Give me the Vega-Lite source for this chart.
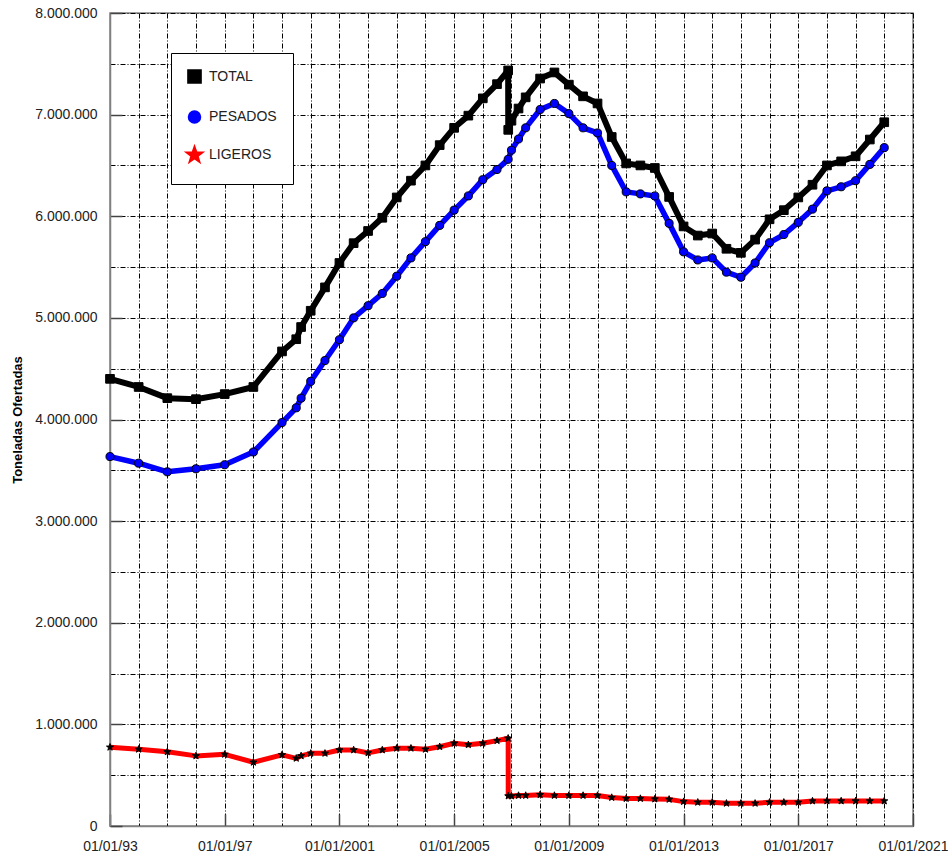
{
  "$schema": "https://vega.github.io/schema/vega-lite/v6.json",
  "width": 803,
  "height": 813,
  "autosize": {"type": "none"},
  "padding": {"left": 110, "top": 13, "right": 35, "bottom": 30},
  "background": "white",
  "config": {
    "font": "Liberation Sans",
    "view": {"stroke": "#808080", "strokeWidth": 1.5}
  },
  "data": {
    "values": [
      {"d": "1993-01-01", "TOTAL": 4400000, "PESADOS": 3635000, "LIGEROS": 775000},
      {"d": "1994-01-01", "TOTAL": 4320000, "PESADOS": 3570000, "LIGEROS": 755000},
      {"d": "1995-01-01", "TOTAL": 4210000, "PESADOS": 3485000, "LIGEROS": 730000},
      {"d": "1996-01-01", "TOTAL": 4200000, "PESADOS": 3515000, "LIGEROS": 690000},
      {"d": "1997-01-01", "TOTAL": 4250000, "PESADOS": 3555000, "LIGEROS": 705000},
      {"d": "1998-01-01", "TOTAL": 4320000, "PESADOS": 3680000, "LIGEROS": 627000},
      {"d": "1999-01-01", "TOTAL": 4670000, "PESADOS": 3970000, "LIGEROS": 700000},
      {"d": "1999-07-01", "TOTAL": 4790000, "PESADOS": 4115000, "LIGEROS": 666000},
      {"d": "1999-09-01", "TOTAL": 4910000, "PESADOS": 4210000, "LIGEROS": 690000},
      {"d": "2000-01-01", "TOTAL": 5070000, "PESADOS": 4375000, "LIGEROS": 715000},
      {"d": "2000-07-01", "TOTAL": 5300000, "PESADOS": 4580000, "LIGEROS": 715000},
      {"d": "2001-01-01", "TOTAL": 5540000, "PESADOS": 4785000, "LIGEROS": 748000},
      {"d": "2001-07-01", "TOTAL": 5735000, "PESADOS": 5000000, "LIGEROS": 748000},
      {"d": "2002-01-01", "TOTAL": 5855000, "PESADOS": 5120000, "LIGEROS": 720000},
      {"d": "2002-07-01", "TOTAL": 5985000, "PESADOS": 5240000, "LIGEROS": 748000},
      {"d": "2003-01-01", "TOTAL": 6185000, "PESADOS": 5410000, "LIGEROS": 765000},
      {"d": "2003-07-01", "TOTAL": 6350000, "PESADOS": 5590000, "LIGEROS": 765000},
      {"d": "2004-01-01", "TOTAL": 6500000, "PESADOS": 5750000, "LIGEROS": 755000},
      {"d": "2004-07-01", "TOTAL": 6700000, "PESADOS": 5910000, "LIGEROS": 780000},
      {"d": "2005-01-01", "TOTAL": 6870000, "PESADOS": 6060000, "LIGEROS": 814000},
      {"d": "2005-07-01", "TOTAL": 6990000, "PESADOS": 6200000, "LIGEROS": 800000},
      {"d": "2006-01-01", "TOTAL": 7160000, "PESADOS": 6360000, "LIGEROS": 814000},
      {"d": "2006-07-01", "TOTAL": 7300000, "PESADOS": 6460000, "LIGEROS": 840000},
      {"d": "2006-11-20", "TOTAL": 7435000, "PESADOS": 6560000, "LIGEROS": 863000},
      {"d": "2006-11-21", "TOTAL": 6850000, "PESADOS": null, "LIGEROS": 295000},
      {"d": "2007-01-01", "TOTAL": 6940000, "PESADOS": 6650000, "LIGEROS": 295000},
      {"d": "2007-04-01", "TOTAL": 7060000, "PESADOS": 6760000, "LIGEROS": 300000},
      {"d": "2007-07-01", "TOTAL": 7170000, "PESADOS": 6870000, "LIGEROS": 300000},
      {"d": "2008-01-01", "TOTAL": 7355000, "PESADOS": 7050000, "LIGEROS": 308000},
      {"d": "2008-07-01", "TOTAL": 7415000, "PESADOS": 7110000, "LIGEROS": 300000},
      {"d": "2009-01-01", "TOTAL": 7295000, "PESADOS": 7010000, "LIGEROS": 300000},
      {"d": "2009-07-01", "TOTAL": 7180000, "PESADOS": 6870000, "LIGEROS": 300000},
      {"d": "2010-01-01", "TOTAL": 7110000, "PESADOS": 6820000, "LIGEROS": 300000},
      {"d": "2010-07-01", "TOTAL": 6780000, "PESADOS": 6500000, "LIGEROS": 280000},
      {"d": "2011-01-01", "TOTAL": 6520000, "PESADOS": 6240000, "LIGEROS": 270000},
      {"d": "2011-07-01", "TOTAL": 6500000, "PESADOS": 6220000, "LIGEROS": 270000},
      {"d": "2012-01-01", "TOTAL": 6475000, "PESADOS": 6200000, "LIGEROS": 265000},
      {"d": "2012-07-01", "TOTAL": 6190000, "PESADOS": 5930000, "LIGEROS": 262000},
      {"d": "2013-01-01", "TOTAL": 5900000, "PESADOS": 5650000, "LIGEROS": 240000},
      {"d": "2013-07-01", "TOTAL": 5810000, "PESADOS": 5570000, "LIGEROS": 233000},
      {"d": "2014-01-01", "TOTAL": 5830000, "PESADOS": 5590000, "LIGEROS": 233000},
      {"d": "2014-07-01", "TOTAL": 5680000, "PESADOS": 5450000, "LIGEROS": 223000},
      {"d": "2015-01-01", "TOTAL": 5640000, "PESADOS": 5400000, "LIGEROS": 223000},
      {"d": "2015-07-01", "TOTAL": 5770000, "PESADOS": 5540000, "LIGEROS": 223000},
      {"d": "2016-01-01", "TOTAL": 5970000, "PESADOS": 5740000, "LIGEROS": 233000},
      {"d": "2016-07-01", "TOTAL": 6060000, "PESADOS": 5820000, "LIGEROS": 233000},
      {"d": "2017-01-01", "TOTAL": 6185000, "PESADOS": 5940000, "LIGEROS": 233000},
      {"d": "2017-07-01", "TOTAL": 6310000, "PESADOS": 6070000, "LIGEROS": 246000},
      {"d": "2018-01-01", "TOTAL": 6500000, "PESADOS": 6250000, "LIGEROS": 246000},
      {"d": "2018-07-01", "TOTAL": 6540000, "PESADOS": 6290000, "LIGEROS": 246000},
      {"d": "2019-01-01", "TOTAL": 6590000, "PESADOS": 6350000, "LIGEROS": 246000},
      {"d": "2019-07-01", "TOTAL": 6755000, "PESADOS": 6510000, "LIGEROS": 246000},
      {"d": "2020-01-01", "TOTAL": 6925000, "PESADOS": 6675000, "LIGEROS": 246000}
    ]
  },
  "transform": [
    {"fold": ["TOTAL", "PESADOS", "LIGEROS"], "as": ["s", "v"]},
    {"filter": "isValid(datum.v)"}
  ],
  "encoding": {
    "x": {
      "field": "d",
      "type": "temporal",
      "scale": {
        "type": "utc",
        "domain": [
          {"year": 1993, "month": 1, "date": 1, "utc": true},
          {"year": 2021, "month": 1, "date": 1, "utc": true}
        ]
      },
      "axis": {
        "title": null,
        "values": [
          {"year": 1993, "utc": true}, {"year": 1994, "utc": true}, {"year": 1995, "utc": true}, {"year": 1996, "utc": true},
          {"year": 1997, "utc": true}, {"year": 1998, "utc": true}, {"year": 1999, "utc": true}, {"year": 2000, "utc": true},
          {"year": 2001, "utc": true}, {"year": 2002, "utc": true}, {"year": 2003, "utc": true}, {"year": 2004, "utc": true},
          {"year": 2005, "utc": true}, {"year": 2006, "utc": true}, {"year": 2007, "utc": true}, {"year": 2008, "utc": true},
          {"year": 2009, "utc": true}, {"year": 2010, "utc": true}, {"year": 2011, "utc": true}, {"year": 2012, "utc": true},
          {"year": 2013, "utc": true}, {"year": 2014, "utc": true}, {"year": 2015, "utc": true}, {"year": 2016, "utc": true},
          {"year": 2017, "utc": true}, {"year": 2018, "utc": true}, {"year": 2019, "utc": true}, {"year": 2020, "utc": true},
          {"year": 2021, "utc": true}
        ],
        "grid": true,
        "gridColor": "#000",
        "gridDash": [5, 2, 1, 2],
        "gridWidth": 1,
        "domainColor": "#808080",
        "domainWidth": 1.5,
        "tickSize": -12,
        "tickColor": "#444",
        "tickWidth": 1.5,
        "tickOpacity": {"condition": {"test": "utcyear(datum.value) % 4 == 1", "value": 1}, "value": 0},
        "labelExpr": "utcyear(datum.value) % 4 == 1 ? '01/01/' + (utcyear(datum.value) < 2000 ? substring(toString(utcyear(datum.value)), 2) : toString(utcyear(datum.value))) : ''",
        "labelPadding": 25,
        "labelFontSize": 14,
        "labelColor": "#222",
        "labelFlush": false,
        "labelOverlap": false,
        "labelAngle": 0
      }
    },
    "y": {
      "field": "v",
      "type": "quantitative",
      "scale": {"domain": [0, 8000000], "nice": false},
      "axis": {
        "title": "Toneladas Ofertadas",
        "titleFontSize": 13,
        "titleFontWeight": "bold",
        "titleColor": "#000",
        "titlePadding": 10,
        "values": [0, 500000, 1000000, 1500000, 2000000, 2500000, 3000000, 3500000, 4000000, 4500000, 5000000, 5500000, 6000000, 6500000, 7000000, 7500000, 8000000],
        "grid": true,
        "gridColor": "#000",
        "gridDash": [5, 2, 1, 2],
        "gridWidth": 1,
        "domainColor": "#808080",
        "domainWidth": 1.5,
        "tickSize": -12,
        "tickColor": "#444",
        "tickWidth": 1.5,
        "tickOpacity": {"condition": {"test": "datum.value % 1000000 == 0", "value": 1}, "value": 0},
        "labelExpr": "datum.value % 1000000 == 0 ? replace(replace(format(datum.value, ','), ',', '.'), ',', '.') : ''",
        "labelPadding": 25,
        "labelFontSize": 14,
        "labelColor": "#222",
        "labelOverlap": false
      }
    }
  },
  "layer": [
    {
      "mark": {"type": "line", "strokeJoin": "round"},
      "encoding": {
        "stroke": {
          "field": "s",
          "type": "nominal",
          "scale": {"domain": ["TOTAL", "PESADOS", "LIGEROS"], "range": ["#000000", "#0000ff", "#ff0000"]},
          "legend": {
            "orient": "none",
            "legendX": 61,
            "legendY": 40,
            "title": null,
            "fillColor": "white",
            "strokeColor": "#000",
            "padding": 16,
            "rowPadding": 8,
            "labelFontSize": 14,
            "labelColor": "#222",
            "labelOffset": 7,
            "symbolType": "square",
            "symbolSize": 30,
            "symbolStrokeWidth": 2
          }
        },
        "strokeWidth": {
          "field": "s",
          "type": "nominal",
          "scale": {"domain": ["TOTAL", "PESADOS", "LIGEROS"], "range": [6, 5, 8]},
          "legend": null
        }
      }
    },
    {
      "mark": {"type": "point", "filled": true, "stroke": "#000", "strokeWidth": 1, "opacity": 1},
      "encoding": {
        "shape": {
          "field": "s",
          "type": "nominal",
          "scale": {
            "domain": ["TOTAL", "PESADOS", "LIGEROS"],
            "range": ["square", "circle", "M0,-1L0.235,-0.324L0.951,-0.309L0.38,0.124L0.588,0.809L0,0.4L-0.588,0.809L-0.38,0.124L-0.951,-0.309L-0.235,-0.324Z"]
          },
          "legend": null
        },
        "fill": {
          "field": "s",
          "type": "nominal",
          "scale": {"domain": ["TOTAL", "PESADOS", "LIGEROS"], "range": ["#000000", "#0000ff", "#000000"]},
          "legend": null
        },
        "size": {
          "field": "s",
          "type": "nominal",
          "scale": {"domain": ["TOTAL", "PESADOS", "LIGEROS"], "range": [75, 55, 110]},
          "legend": null
        }
      }
    }
  ]
}
